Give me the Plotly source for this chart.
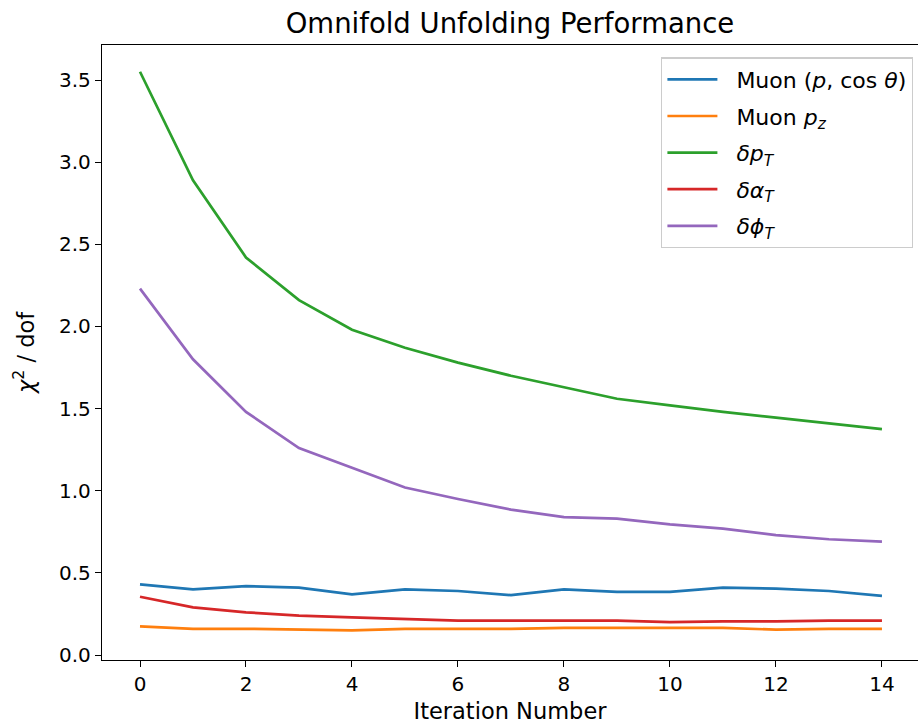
import plotly.graph_objects as go

iterations = list(range(15))
muon_p_cos = [0.43, 0.40, 0.42, 0.41, 0.37, 0.40, 0.39, 0.365, 0.40, 0.385, 0.385, 0.41, 0.405, 0.39, 0.36]
muon_pz = [0.175, 0.16, 0.16, 0.155, 0.15, 0.16, 0.16, 0.16, 0.165, 0.165, 0.165, 0.165, 0.155, 0.16, 0.16]
delta_pt = [3.55, 2.89, 2.42, 2.16, 1.98, 1.87, 1.78, 1.70, 1.63, 1.56, 1.52, 1.48, 1.445, 1.41, 1.375]
delta_alphat = [0.355, 0.29, 0.26, 0.24, 0.23, 0.22, 0.21, 0.21, 0.21, 0.21, 0.20, 0.205, 0.205, 0.21, 0.21]
delta_phit = [2.23, 1.80, 1.48, 1.26, 1.14, 1.02, 0.95, 0.885, 0.84, 0.83, 0.795, 0.77, 0.73, 0.705, 0.69]

pad = "\u00a0\u00a0"
names = [
    pad + "Muon (<i>p</i>, cos <i>θ</i>)",
    pad + "Muon <i>p</i><sub><i>z</i></sub>",
    pad + "<i>δp</i><sub><i>T</i></sub>",
    pad + "<i>δα</i><sub><i>T</i></sub>",
    pad + "<i>δϕ</i><sub><i>T</i></sub>",
]
series = [muon_p_cos, muon_pz, delta_pt, delta_alphat, delta_phit]
colors = ["#1f77b4", "#ff7f0e", "#2ca02c", "#d62728", "#9467bd"]

fig = go.Figure()
for i, (name, ys, c) in enumerate(zip(names, series, colors)):
    fig.add_trace(go.Scatter(x=iterations, y=ys, mode="lines", name=name,
                             legendgroup=f"g{i}",
                             line=dict(color=c, width=2.7)))

font = "DejaVu Sans, Liberation Sans, sans-serif"
fig.update_layout(
    width=918, height=726,
    margin=dict(l=102, r=0, t=45, b=66),
    plot_bgcolor="white", paper_bgcolor="white",
    font=dict(family=font, size=20, color="black"),
    title=dict(text="Omnifold Unfolding Performance", x=0.5, xref="paper", xanchor="center",
               y=1 - 23 / 726, yanchor="middle", font=dict(size=27.5)),
    xaxis=dict(range=[-0.717, 14.68], tickmode="array", tickvals=list(range(0, 15, 2)),
               showgrid=False, zeroline=False, showline=True, linecolor="black", linewidth=1.3,
               mirror=True, ticks="outside", ticklen=6, tickwidth=1.3, tickcolor="black",
               tickfont=dict(size=20),
               title=dict(text="Iteration Number", standoff=8, font=dict(size=22.5))),
    yaxis=dict(range=[-0.03, 3.713], tickmode="array",
               tickvals=[0, 0.5, 1.0, 1.5, 2.0, 2.5, 3.0, 3.5],
               ticktext=["0.0", "0.5", "1.0", "1.5", "2.0", "2.5", "3.0", "3.5"],
               showgrid=False, zeroline=False, showline=True, linecolor="black", linewidth=1.3,
               mirror=True, ticks="outside", ticklen=6, tickwidth=1.3, tickcolor="black",
               tickfont=dict(size=20),
               title=dict(text="<i>χ</i><sup>2</sup> / dof", standoff=18, font=dict(size=22.5))),
    legend=dict(x=0.994, y=0.98, xanchor="right", yanchor="top",
                bgcolor="rgba(255,255,255,0.8)", bordercolor="#cccccc", borderwidth=1.3,
                font=dict(size=22), tracegroupgap=5, itemwidth=50),
)

fig.write_html("out.html")
